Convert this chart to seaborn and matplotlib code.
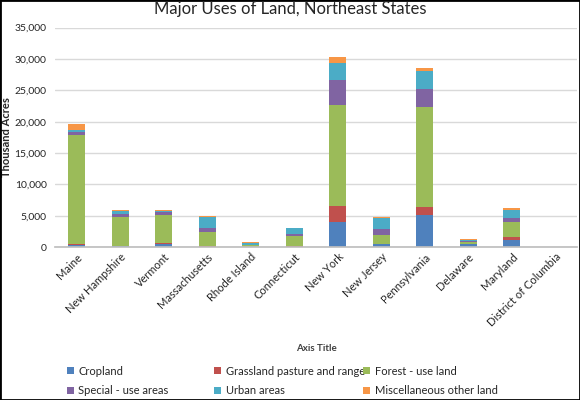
import matplotlib.pyplot as plt
import numpy as np
import pandas as pd
import seaborn as sns
from matplotlib.patches import Patch, Rectangle
from matplotlib.ticker import FuncFormatter, FixedLocator

sns.set_theme(style="white")
plt.rcParams['font.family'] = ['Lato', 'DejaVu Sans']

states = ['Maine', 'New Hampshire', 'Vermont', 'Massachusetts', 'Rhode Island',
          'Connecticut', 'New York', 'New Jersey', 'Pennsylvania', 'Delaware',
          'Maryland', 'District of Columbia']

# thousand acres
cropland = [300, 120, 480, 100, 20, 100, 4090, 530, 5100, 450, 1220, 0]
grassland = [200, 50, 200, 150, 20, 50, 2450, 50, 1330, 30, 480, 0]
forest = [17400, 4620, 4460, 2180, 320, 1700, 16150, 1430, 15940, 330, 2390, 0]
special = [530, 530, 530, 640, 30, 210, 3990, 850, 2920, 110, 640, 10]
urban = [320, 370, 160, 1750, 260, 960, 2600, 1750, 2760, 250, 1120, 20]
misc = [900, 270, 100, 160, 160, 110, 1010, 160, 530, 80, 420, 0]

series = ['Cropland', 'Grassland pasture and range', 'Forest - use land',
          'Special - use areas', 'Urban areas', 'Miscellaneous other land']
colors = ['#4F81BD', '#C0504D', '#9BBB59', '#8064A2', '#4BACC6', '#F79646']

df = pd.DataFrame({'State': states, series[0]: cropland, series[1]: grassland,
                   series[2]: forest, series[3]: special, series[4]: urban,
                   series[5]: misc})

fig = plt.figure(figsize=(5.8, 4.0), dpi=100)
ax = fig.add_axes([0.0948, 0.382, 0.9, 0.549])

bottom = np.zeros(len(states))
for name, col in zip(series, colors):
    sns.barplot(data=df, x='State', y=name, color=col, width=0.39,
                bottom=bottom, linewidth=0, ax=ax, saturation=1)
    bottom = bottom + df[name].values

ax.set_ylim(0, 35000)
ax.set_xlim(-0.5, len(states) - 0.5)
ax.set_yticks(np.arange(0, 35001, 5000))
ax.yaxis.set_major_formatter(FuncFormatter(lambda v, p: f'{int(v):,}'))
ax.grid(axis='y', color='#D9D9D9', linewidth=1)
ax.set_axisbelow(True)
for s in ['top', 'right', 'left']:
    ax.spines[s].set_visible(False)
ax.spines['bottom'].set_color('#BFBFBF')
ax.tick_params(axis='y', length=0, labelsize=7.5, labelcolor='#262626', pad=6)
ax.tick_params(axis='x', which='major', length=0, labelsize=8,
               labelcolor='#262626', pad=3)
ax.xaxis.set_minor_locator(FixedLocator(np.arange(-0.5, len(states), 1)))
ax.tick_params(axis='x', which='minor', length=4, color='#BFBFBF', width=1,
               direction='out')
ax.set_xticks(range(len(states)))
ax.set_xticklabels(states, rotation=45, ha='right', va='top',
                   rotation_mode='anchor')

ax.set_xlabel('Axis Title', fontsize=7, fontweight='bold', color='#404040')
ax.xaxis.set_label_coords(0.5, -0.44)
ax.set_ylabel('Thousand Acres', fontsize=8, fontweight='bold', color='#262626')
ax.yaxis.set_label_coords(-0.083, 0.5)

fig.suptitle('Major Uses of Land, Northeast States', fontsize=12,
             color='#262626', y=0.997)

handles = [Patch(facecolor=c, edgecolor='none') for c in colors]
xs = [0.108, 0.362, 0.619]
for i, x in enumerate(xs):
    idx = [i, i + 3]
    fig.legend([handles[j] for j in idx], [series[j] for j in idx],
               loc='upper left', bbox_to_anchor=(x, 0.097), frameon=False,
               fontsize=8, handlelength=0.6, handleheight=0.6,
               handletextpad=0.4, labelspacing=0.75, borderaxespad=0,
               labelcolor='#262626')

fig.patches.append(Rectangle((0, 0), 1, 1, transform=fig.transFigure,
                             fill=False, edgecolor='black', linewidth=2))

fig.savefig('out.png', dpi=100)
